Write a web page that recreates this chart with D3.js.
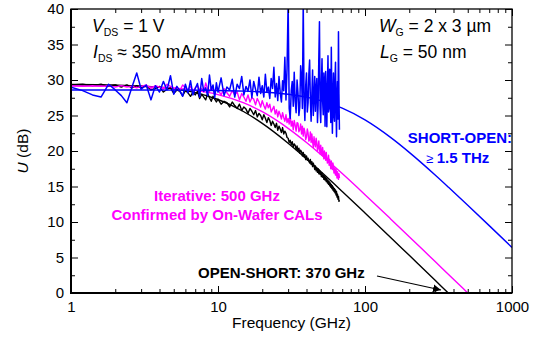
<!DOCTYPE html>
<html><head><meta charset="utf-8">
<script src="https://cdn.jsdelivr.net/npm/d3@7"></script>
<style>
body{margin:0;background:#fff;}
svg{display:block;font-family:"Liberation Sans",Arial,sans-serif;}
</style></head>
<body><svg id="c" width="540" height="340"></svg>
<script>
// ---- measured data (frequency in GHz, U in dB) ----
const freq = [1,1.2,1.4,1.6,1.8,2,2.2,2.4,2.6,2.8,
3,3.25,3.5,3.75,4,4.25,4.5,4.75,5,5.25,5.5,5.75,6,6.25,6.5,6.75,7,7.25,7.5,7.75,8,8.25,8.5,8.75,9,9.25,9.5,9.75,
10,10.5,11,11.5,12,12.5,13,13.5,14,14.5,15,15.5,16,16.5,17,17.5,18,18.5,19,19.5,20,20.5,21,21.5,22,22.5,23,23.5,24,24.5,25,25.5,26,26.5,27,27.5,28,28.5,29,29.5,
30,30.5,31,31.5,32,32.5,33,33.5,34,34.5,35,35.5,36,36.5,37,37.5,38,38.5,39,39.5,40,40.5,41,41.5,42,42.5,43,43.5,44,44.5,45,45.5,46,46.5,47,47.5,48,48.5,49,49.5,
50,50.5,51,51.5,52,52.5,53,53.5,54,54.5,55,55.5,56,56.5,57,57.5,58,58.5,59,59.5,60,60.5,61,61.5,62,62.5,63,63.5,64,64.5,65,65.5,66,66.5,67];

const shortOpenU = [29.0,28.5,27.9,27.6,29.4,28.6,27.8,26.8,29.0,31.0,
28.7,29.3,27.2,29.2,28.3,29.8,28.6,30.6,28.0,29.1,28.5,27.7,29.4,28.2,29.9,27.9,28.8,29.5,27.6,30.2,28.4,28.9,27.8,30.7,28.6,29.3,27.5,29.6,
28.3,30.3,27.8,29.0,28.6,30.1,27.6,29.4,28.8,30.5,27.9,29.1,28.4,30.0,27.5,29.8,28.7,27.8,30.4,28.1,29.2,27.6,30.8,28.3,29.0,27.4,30.2,28.8,31.8,27.6,29.5,27.1,30.5,28.2,26.9,29.9,28.5,33.2,27.2,31.7,
41.0,26.0,24.6,28.5,29.8,26.3,31.1,27.0,25.4,30.0,28.2,25.0,26.2,32.0,30.5,26.0,41.0,27.5,24.3,29.2,31.0,25.5,26.8,30.8,32.8,27.2,24.2,28.0,31.4,25.0,27.6,30.5,25.6,28.8,30.2,24.0,26.5,33.0,38.2,26.0,
24.0,29.5,33.0,27.0,25.1,31.0,29.6,23.5,31.2,27.8,23.4,29.0,33.4,25.5,26.0,31.5,28.8,24.0,34.6,27.0,22.5,28.0,31.0,25.0,24.2,30.0,32.5,26.0,22.0,27.5,29.8,24.5,36.8,28.0,23.0];

const iterativeU = [29.2,29.1,29.2,29.1,29.2,29.0,29.2,29.0,29.1,28.9,
29.1,29.3,28.8,29.2,29.0,28.7,29.4,29.1,28.8,29.0,28.5,29.3,28.9,28.6,29.1,28.4,28.9,29.2,28.6,28.8,28.3,29.6,28.7,28.4,29.0,28.6,28.1,28.9,
28.6,27.9,28.8,28.2,27.7,28.5,27.9,28.3,27.2,28.1,27.6,27.0,27.9,26.9,27.5,27.3,26.5,27.4,26.9,26.2,27.1,26.4,25.9,26.8,26.1,26.6,25.5,25.9,26.3,25.2,25.8,24.8,25.6,25.1,24.5,25.4,24.7,24.2,25.1,24.0,
24.6,23.8,24.9,23.5,24.2,23.0,24.3,23.6,22.8,24.0,23.9,22.7,23.0,23.8,22.4,23.5,22.1,23.2,22.7,21.6,22.0,23.1,22.5,21.4,21.6,22.7,21.2,22.4,21.3,20.5,22.0,21.0,20.6,21.8,21.2,20.0,20.5,21.4,20.3,19.6,
20.8,19.9,19.4,20.5,19.6,18.9,20.0,19.2,18.7,19.8,19.0,18.3,18.6,19.4,18.0,18.8,18.2,17.5,18.6,17.7,17.4,18.3,17.8,16.9,17.6,17.0,16.6,17.5,16.9,16.2,17.1,16.4,16.0,16.8,16.2];

const openShortU = [29.3,29.4,29.2,29.4,29.1,29.3,29.0,29.3,28.9,29.2,
28.9,29.2,28.6,28.8,29.1,28.3,28.7,28.9,28.1,28.6,28.4,27.8,28.5,28.2,27.7,28.3,27.9,28.4,27.4,28.0,27.6,27.2,28.1,27.5,27.0,27.7,27.3,26.9,
27.3,26.6,27.0,26.8,26.2,26.9,26.4,26.0,26.6,25.7,26.2,25.9,25.3,26.0,25.6,25.1,25.7,24.8,25.3,25.0,24.4,25.1,24.6,24.0,24.7,24.3,23.6,24.2,23.8,23.3,23.9,22.9,23.5,23.1,22.6,23.3,22.4,22.8,22.5,21.9,
21.8,21.2,21.5,20.9,21.3,20.6,21.0,20.8,20.2,20.7,20.0,20.4,19.7,20.1,19.9,19.3,19.8,19.2,19.5,18.8,19.3,18.7,19.0,18.6,18.3,18.8,18.1,18.5,17.8,18.3,17.9,17.4,17.9,17.2,17.6,17.0,17.5,16.8,17.3,16.7,
17.0,16.4,16.9,16.3,16.6,16.0,16.5,15.9,16.3,15.7,16.1,15.5,15.9,15.3,15.7,15.1,15.5,14.9,15.3,14.7,15.1,14.5,14.9,14.3,14.7,14.1,14.5,13.8,14.3,13.5,13.9,13.2,13.6,12.9,13.1];

// ---- fitted curves (read points) ----
const fitFreq = [1,2,3,5,7,10,15,20,30,40,50,70,100,150,200,300,370,500,700,1000];
const fitShortOpen = [28.60,28.59,28.59,28.58,28.57,28.53,28.44,28.32,28.00,27.59,27.10,26.03,24.38,21.88,19.81,16.62,14.89,12.36,9.49,6.41];
const fitIterative = [29.19,29.14,29.07,28.85,28.54,27.95,26.77,25.53,23.19,21.19,19.51,16.82,13.85,10.40,7.93,4.42,2.61,0.00,-2.92,-6.02];
const fitOpenShort = [29.37,29.29,29.16,28.76,28.22,27.25,25.53,23.89,21.10,18.89,17.10,14.30,11.27,7.79,5.30,1.79,-0.03,-2.64,-5.56,-8.66];

// ---- ticks ----
const xMajor = [1,10,100,1000];
const xMinor = [2,3,4,5,6,7,8,9,20,30,40,50,60,70,80,90,200,300,400,500,600,700,800,900];
const yMajor = [0,5,10,15,20,25,30,35,40];
const yMinor = [2.5,7.5,12.5,17.5,22.5,27.5,32.5,37.5];

const svg = d3.select("#c");
const x = d3.scaleLog().domain([1,1000]).range([71,512]);
const y = d3.scaleLinear().domain([0,40]).range([293,9]);
const [x0,x1] = x.range(), [y0,y1] = y.range();

const defs = svg.append("defs");
defs.append("clipPath").attr("id","plot")
  .append("rect").attr("x",x0).attr("y",y1).attr("width",x1-x0).attr("height",y0-y1);

const plot = svg.append("g").attr("clip-path","url(#plot)");
const zip = (fs,us)=>fs.map((f,i)=>({f,u:us[i]})).filter(d=>d.u!==undefined);
const line = d3.line().x(d=>x(d.f)).y(d=>y(d.u));
const smooth = d3.line().x(d=>x(d.f)).y(d=>y(d.u)).curve(d3.curveMonotoneX);

const BLUE="#0000ff", MAG="#ff00ff", BLK="#000000";
plot.append("path").attr("d",smooth(zip(fitFreq,fitOpenShort))).attr("fill","none").attr("stroke",BLK).attr("stroke-width",1.4);
plot.append("path").attr("d",smooth(zip(fitFreq,fitIterative))).attr("fill","none").attr("stroke",MAG).attr("stroke-width",1.4);
plot.append("path").attr("d",line(zip(freq,openShortU))).attr("fill","none").attr("stroke",BLK).attr("stroke-width",1.4).attr("stroke-linejoin","round");
plot.append("path").attr("d",line(zip(freq,iterativeU))).attr("fill","none").attr("stroke",MAG).attr("stroke-width",1.4).attr("stroke-linejoin","round");
plot.append("path").attr("d",line(zip(freq,shortOpenU))).attr("fill","none").attr("stroke",BLUE).attr("stroke-width",1.5).attr("stroke-linejoin","round");
plot.append("path").attr("d",smooth(zip(fitFreq,fitShortOpen))).attr("fill","none").attr("stroke",BLUE).attr("stroke-width",1.4);

// ---- axes ----
function styleAxis(g){ g.select(".domain").remove(); g.selectAll("line").attr("stroke","#000").attr("stroke-width",1); g.selectAll("text").attr("font-size",15).attr("font-family","Liberation Sans, Arial, sans-serif").attr("fill","#000"); }
svg.append("g").attr("transform",`translate(0,${y0})`)
  .call(d3.axisBottom(x).tickValues(xMajor).tickFormat(d3.format("d")).tickSizeInner(-7).tickSizeOuter(0).tickPadding(8)).call(styleAxis);
svg.append("g").attr("transform",`translate(0,${y0})`)
  .call(d3.axisBottom(x).tickValues(xMinor).tickFormat("").tickSizeInner(-4).tickSizeOuter(0)).call(styleAxis);
svg.append("g").attr("transform",`translate(0,${y1})`)
  .call(d3.axisTop(x).tickValues(xMajor).tickFormat("").tickSizeInner(-7).tickSizeOuter(0)).call(styleAxis);
svg.append("g").attr("transform",`translate(0,${y1})`)
  .call(d3.axisTop(x).tickValues(xMinor).tickFormat("").tickSizeInner(-4).tickSizeOuter(0)).call(styleAxis);
svg.append("g").attr("transform",`translate(${x0},0)`)
  .call(d3.axisLeft(y).tickValues(yMajor).tickFormat(d3.format("d")).tickSizeInner(-7).tickSizeOuter(0).tickPadding(7)).call(styleAxis);
svg.append("g").attr("transform",`translate(${x0},0)`)
  .call(d3.axisLeft(y).tickValues(yMinor).tickFormat("").tickSizeInner(-4).tickSizeOuter(0)).call(styleAxis);
svg.append("g").attr("transform",`translate(${x1},0)`)
  .call(d3.axisRight(y).tickValues(yMajor).tickFormat("").tickSizeInner(-7).tickSizeOuter(0)).call(styleAxis);
svg.append("g").attr("transform",`translate(${x1},0)`)
  .call(d3.axisRight(y).tickValues(yMinor).tickFormat("").tickSizeInner(-4).tickSizeOuter(0)).call(styleAxis);

// frame
svg.append("rect").attr("x",x0).attr("y",y1).attr("width",x1-x0).attr("height",y0-y1).attr("fill","none").attr("stroke","#000").attr("stroke-width",1.3);
svg.append("line").attr("x1",x0).attr("x2",x0).attr("y1",y1).attr("y2",y0+1).attr("stroke","#000").attr("stroke-width",2);
svg.append("line").attr("x1",x0-1).attr("x2",x1).attr("y1",y0).attr("y2",y0).attr("stroke","#000").attr("stroke-width",2);

// axis titles
svg.append("text").attr("x",(x0+x1)/2).attr("y",328).attr("text-anchor","middle").attr("font-size",15.5).text("Frequency (GHz)");
const yl = svg.append("text").attr("transform",`translate(28,${(y0+y1)/2}) rotate(-90)`).attr("text-anchor","middle").attr("font-size",15.5);
yl.append("tspan").attr("font-style","italic").text("U");
yl.append("tspan").text(" (dB)");

// annotations with subscripts
function subLabel(xp, yp, main, sub, rest){
  const t = svg.append("text").attr("x",xp).attr("y",yp).attr("font-size",17.5);
  t.append("tspan").attr("font-style","italic").text(main);
  t.append("tspan").attr("font-size",10.5).attr("dy",4).text(sub);
  t.append("tspan").attr("dy",-4).text(rest);
}
subLabel(92,32,"V","DS"," = 1 V");
subLabel(93,58,"I","DS"," \u2248 350 mA/mm");
subLabel(379,32,"W","G"," = 2 x 3 \u00b5m");
subLabel(380,58,"L","G"," = 50 nm");

svg.append("text").attr("x",512).attr("y",143).attr("text-anchor","end").attr("font-size",15).attr("font-weight","bold").attr("fill",BLUE).text("SHORT-OPEN:");
const th = svg.append("text").attr("x",426).attr("y",163).attr("font-size",15).attr("fill",BLUE);
th.append("tspan").attr("font-size",13).text("\u2265 ");
th.append("tspan").attr("font-weight","bold").text("1.5 THz");

svg.append("text").attr("x",217).attr("y",201).attr("text-anchor","middle").attr("font-size",15).attr("font-weight","bold").attr("fill",MAG).text("Iterative: 500 GHz");
svg.append("text").attr("x",217).attr("y",220).attr("text-anchor","middle").attr("font-size",15).attr("font-weight","bold").attr("fill",MAG).text("Confirmed by On-Wafer CALs");
svg.append("text").attr("x",198).attr("y",278).attr("font-size",15).attr("font-weight","bold").attr("fill",BLK).text("OPEN-SHORT: 370 GHz");

// arrow
defs.append("marker").attr("id","ah").attr("viewBox","0 0 10 10").attr("refX",10).attr("refY",5)
  .attr("markerWidth",8).attr("markerHeight",8).attr("markerUnits","userSpaceOnUse").attr("orient","auto")
  .append("path").attr("d","M0,0L10,5L0,10Z").attr("fill","#000");
svg.append("line").attr("x1",377).attr("y1",276).attr("x2",441).attr("y2",290).attr("stroke","#000").attr("stroke-width",1.2).attr("marker-end","url(#ah)");
</script></body></html>
